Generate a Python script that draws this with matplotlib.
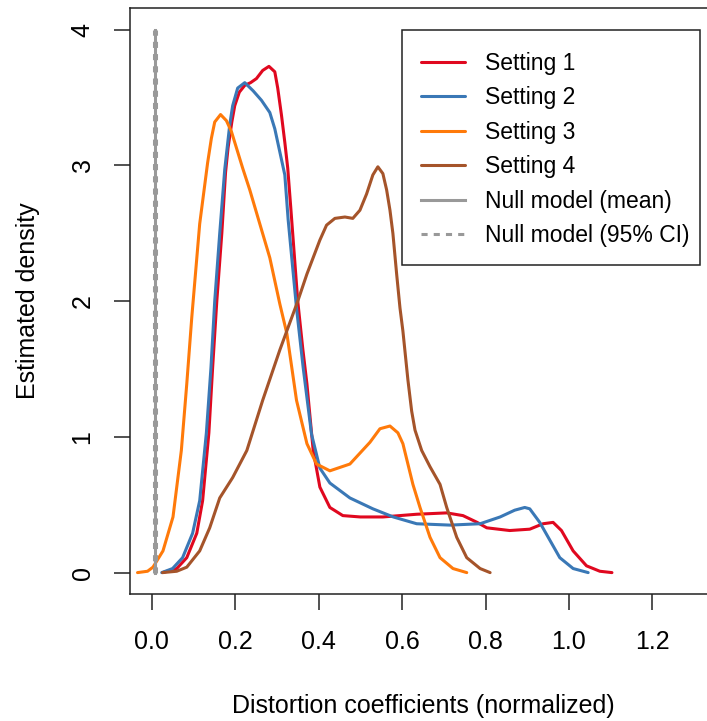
import matplotlib
matplotlib.use("Agg")
import matplotlib.pyplot as plt
from matplotlib.patches import Rectangle

plt.rcParams['font.family'] = ['Liberation Sans', 'DejaVu Sans']

# density curves (x = normalized distortion, y = density)
s1_x = [0.026, 0.06, 0.084, 0.108, 0.122, 0.137, 0.146, 0.156, 0.168, 0.177, 0.183, 0.192, 0.199,
        0.210, 0.223, 0.237, 0.251, 0.266, 0.281, 0.295, 0.302, 0.311, 0.319, 0.326, 0.333, 0.350,
        0.362, 0.372, 0.387, 0.403, 0.427, 0.458, 0.50, 0.554, 0.635, 0.707, 0.746, 0.78, 0.803,
        0.858, 0.906, 0.938, 0.962, 0.982, 1.01, 1.042, 1.074, 1.103]
s1_y = [0.0, 0.03, 0.11, 0.29, 0.53, 1.03, 1.51, 2.0, 2.5, 2.95, 3.13, 3.32, 3.44,
        3.54, 3.59, 3.61, 3.64, 3.70, 3.73, 3.69, 3.57, 3.37, 3.17, 2.98, 2.70, 2.0,
        1.65, 1.39, 0.90, 0.63, 0.48, 0.42, 0.41, 0.41, 0.43, 0.44, 0.42, 0.37, 0.33,
        0.31, 0.32, 0.36, 0.37, 0.31, 0.16, 0.05, 0.01, 0.0]

s2_x = [0.024, 0.05, 0.074, 0.098, 0.115, 0.131, 0.142, 0.151, 0.163, 0.175, 0.187, 0.194, 0.206,
        0.223, 0.243, 0.263, 0.283, 0.295, 0.307, 0.319, 0.327, 0.347, 0.363, 0.383, 0.403, 0.427,
        0.475, 0.53, 0.579, 0.635, 0.715, 0.787, 0.835, 0.870, 0.894, 0.906, 0.930, 0.954, 0.978,
        1.01, 1.046]
s2_y = [0.0, 0.03, 0.11, 0.29, 0.53, 1.03, 1.51, 2.0, 2.5, 2.97, 3.30, 3.44, 3.57,
        3.61, 3.55, 3.48, 3.39, 3.27, 3.10, 2.93, 2.60, 1.95, 1.51, 1.02, 0.77, 0.66,
        0.55, 0.47, 0.41, 0.36, 0.35, 0.36, 0.41, 0.46, 0.48, 0.47, 0.37, 0.24, 0.11,
        0.03, 0.0]

s3_x = [-0.034, -0.01, 0.003, 0.027, 0.051, 0.071, 0.084, 0.096, 0.115, 0.134, 0.143, 0.151, 0.165,
        0.179, 0.191, 0.203, 0.218, 0.235, 0.259, 0.283, 0.307, 0.324, 0.347, 0.372, 0.395, 0.427,
        0.475, 0.523, 0.547, 0.571, 0.590, 0.602, 0.614, 0.626, 0.643, 0.667, 0.691, 0.722, 0.755]
s3_y = [0.0, 0.01, 0.04, 0.16, 0.41, 0.90, 1.39, 1.88, 2.57, 3.02, 3.20, 3.32, 3.375,
        3.33, 3.25, 3.13, 2.98, 2.82, 2.57, 2.32, 1.98, 1.76, 1.27, 0.95, 0.80, 0.75,
        0.80, 0.96, 1.06, 1.08, 1.03, 0.95, 0.80, 0.65, 0.48, 0.26, 0.11, 0.03, 0.0]

s4_x = [0.026, 0.06, 0.084, 0.115, 0.139, 0.163, 0.194, 0.228, 0.266, 0.307, 0.350, 0.372, 0.403,
        0.419, 0.439, 0.463, 0.482, 0.499, 0.515, 0.530, 0.542, 0.554, 0.563, 0.571, 0.578, 0.587,
        0.595, 0.602, 0.614, 0.623, 0.631, 0.647, 0.667, 0.691, 0.707, 0.731, 0.755, 0.787, 0.811]
s4_y = [0.0, 0.01, 0.04, 0.16, 0.33, 0.55, 0.70, 0.90, 1.27, 1.64, 2.0, 2.2, 2.45,
        2.56, 2.61, 2.62, 2.61, 2.67, 2.79, 2.93, 2.99, 2.94, 2.82, 2.67, 2.50, 2.20,
        1.95, 1.78, 1.42, 1.19, 1.05, 0.90, 0.78, 0.65, 0.48, 0.26, 0.11, 0.03, 0.0]

null_mean = 0.008
null_ci = [0.006, 0.010]

labels = ["Setting 1", "Setting 2", "Setting 3", "Setting 4",
          "Null model (mean)", "Null model (95% CI)"]
colors = ["#E0081F", "#3A78B6", "#FF7A0A", "#A5542A"]
grey = "#999999"

fig = plt.figure(figsize=(7.07, 7.21), dpi=100)
ax = fig.add_axes([0.1839, 0.1757, 0.8286, 0.8132])

lw = 2.2
for xs, ys, c, lab in zip([s1_x, s2_x, s3_x, s4_x], [s1_y, s2_y, s3_y, s4_y], colors, labels[:4]):
    ax.plot(xs, ys, color=c, lw=lw, label=lab, solid_capstyle='round', solid_joinstyle='round')

ax.plot([null_mean, null_mean], [0, 4], color=grey, lw=lw, label=labels[4])
for i, v in enumerate(null_ci):
    ax.plot([v, v], [0, 4], color=grey, lw=lw, ls=(0, (2, 2)),
            label=labels[5] if i == 0 else None)

ax.set_xlim(-0.052, 1.352)
ax.set_ylim(-0.16, 4.16)
ax.set_xticks([0.0, 0.2, 0.4, 0.6, 0.8, 1.0, 1.2])
ax.set_xticklabels(["0.0", "0.2", "0.4", "0.6", "0.8", "1.0", "1.2"])
ax.set_yticks([0, 1, 2, 3, 4])
ax.set_yticklabels(["0", "1", "2", "3", "4"], rotation=90, va='center')

ax.tick_params(direction='out', length=11.5, width=1.1, labelsize=18, pad=14, color='#222222')
for sp in ax.spines.values():
    sp.set_linewidth(1.1)
    sp.set_color('#222222')

ax.set_xlabel("Distortion coefficients (normalized)", fontsize=18, labelpad=29)
ax.set_ylabel("Estimated density", fontsize=18, labelpad=22)

# legend: entries without frame, box drawn separately like R's legend()
leg = ax.legend(loc='upper left', bbox_to_anchor=(0.4968, 0.925), borderaxespad=0,
                fontsize=16.5, frameon=False, handlelength=1.92, handletextpad=0.87,
                labelspacing=0.5, borderpad=0)
ax.add_patch(Rectangle((0.464, 0.5617), 0.973 - 0.464, 0.9625 - 0.5617, transform=ax.transAxes,
                       fill=False, edgecolor='#222222', lw=1.1, zorder=5))

fig.savefig("out.png", dpi=100)
